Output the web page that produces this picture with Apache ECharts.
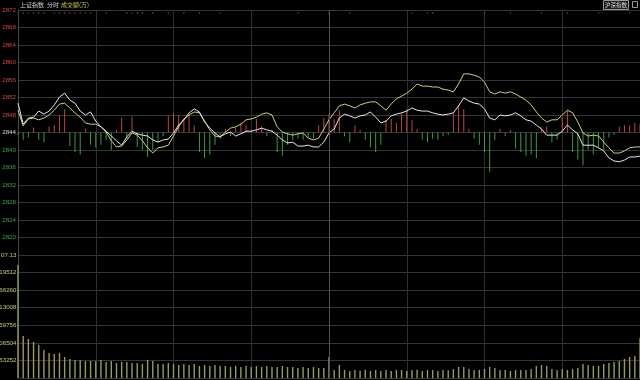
<!DOCTYPE html>
<html><head><meta charset="utf-8">
<script src="https://cdn.jsdelivr.net/npm/echarts@6/dist/echarts.min.js"></script>
<style>html,body{margin:0;padding:0;background:#000;}#c{width:640px;height:380px;}</style>
</head><body><div id="c"></div>
<script>
// index price (white) and second index (yellow), one point every 2 minutes 9:30-11:30, 13:00-15:00
const whiteLine = [2850.7,2845.9,2847.3,2847.5,2848.9,2848.2,2848.9,2850.3,2852.1,2853.0,
2851.4,2850.7,2848.9,2848.0,2848.7,2846.6,2845.3,2844.3,2843.2,2842.1,
2841.1,2843.0,2844.3,2843.7,2843.4,2843.2,2842.3,2841.8,2842.3,2842.5,
2843.9,2845.7,2846.9,2848.5,2849.4,2848.7,2846.4,2845.0,2843.9,2843.0,
2843.7,2844.1,2843.2,2843.7,2844.3,2844.3,2844.6,2845.0,2844.6,2844.3,
2843.4,2842.3,2841.6,2841.8,2840.9,2840.9,2841.1,2840.7,2840.7,2841.8,
2843.9,2844.8,2847.3,2848.2,2847.8,2847.3,2847.8,2848.0,2848.7,2847.5,
2846.2,2846.6,2847.8,2848.2,2848.5,2848.9,2849.6,2849.1,2848.9,2848.9,
2848.5,2848.2,2848.0,2848.2,2848.5,2850.1,2851.9,2851.2,2850.7,2850.5,
2849.4,2847.3,2846.9,2848.0,2847.8,2848.0,2848.5,2847.8,2846.9,2846.6,
2845.7,2844.8,2843.4,2843.4,2843.4,2844.3,2845.7,2844.6,2843.7,2841.1,
2841.1,2841.1,2840.5,2839.8,2838.2,2837.5,2837.3,2837.7,2838.4,2838.4,
2838.6];
const yellowLine = [2849.1,2845.5,2847.1,2847.3,2846.9,2847.3,2848.0,2849.1,2850.5,2850.7,
2849.6,2848.5,2847.5,2846.2,2845.9,2845.9,2845.3,2844.1,2842.1,2840.7,
2840.9,2842.3,2843.9,2843.4,2842.1,2840.5,2839.3,2840.5,2840.7,2841.1,
2843.2,2845.3,2847.1,2848.0,2848.7,2848.5,2846.6,2844.6,2843.2,2843.0,
2844.1,2845.0,2845.3,2845.9,2846.9,2847.1,2847.5,2848.2,2848.5,2848.0,
2845.3,2844.1,2843.7,2843.4,2843.7,2843.9,2842.7,2842.3,2842.7,2844.8,
2846.9,2848.5,2850.1,2850.5,2850.1,2849.6,2850.3,2850.7,2851.0,2851.0,
2850.1,2849.1,2850.5,2851.7,2852.3,2853.0,2853.9,2855.1,2854.6,2854.6,
2854.4,2854.4,2853.9,2853.7,2853.3,2855.1,2857.4,2857.4,2857.1,2856.7,
2855.5,2853.3,2852.8,2853.3,2853.0,2853.3,2852.8,2852.1,2851.4,2850.3,
2848.7,2847.3,2846.4,2846.9,2846.9,2848.0,2849.1,2848.5,2846.4,2843.9,
2843.2,2843.4,2843.2,2841.8,2840.5,2839.3,2839.3,2839.8,2840.5,2840.7,
2840.7];
// red/green strength bars around the 2844 line
const strength = [-2,-6,-4,4,-6,-8,5,6,14,19,
-11,-16,-18,3,-10,-12,-10,-6,-14,2,
12,-5,13,-12,-14,-20,-14,-8,-3,14,
16,14,11,14,6,-16,-21,-18,-10,-5,
3,-3,4,8,6,2,11,5,-3,2,
-16,-19,-10,-6,-5,-6,-4,-5,6,12,
15,11,18,-3,-8,6,2,-6,-12,-16,
-10,10,11,8,16,19,10,3,-6,-8,
-5,-6,-3,-2,16,22,19,3,-5,-10,
-16,-32,-6,3,-3,2,-13,-16,-19,-18,
-21,4,5,-8,-6,12,18,-16,-22,-27,
-14,-18,-12,-14,-4,-2,5,6,6,8,
7];
// turnover (成交额)
const volume = [342500,127300,118200,109100,100000,84900,75800,72700,75800,63700,
57600,54600,54600,51500,51500,51500,54600,48500,51500,45500,
48500,48500,45500,45500,42400,54600,51500,42400,42400,45500,
42400,39400,42400,39400,42400,36400,39400,36400,39400,36400,
36400,33300,36400,33300,36400,33300,36400,33300,36400,33300,
33300,36400,33300,33300,30300,33300,30300,33300,30300,30300,
63700,24200,39400,24600,21200,24200,21800,24900,21200,24200,
21500,24200,21200,24600,24200,21200,24200,24800,21200,24200,
24500,21200,24200,23800,27300,33300,33600,27300,24200,24700,
27300,33300,30300,24200,24600,21200,24200,24200,23900,27300,
36400,39400,36400,27300,24200,27300,24600,27300,30300,42400,
39400,36400,36800,42400,45500,48500,51500,57600,63700,66700,
121200];
// event markers (index of 2-minute slot)
const events = [1,2,3,4,5,7,8,9,10,11,12,13,14,17,21,22,23,24,26,29,32,35,39,54,60,64,76,79,80,90,95,101,106,112,118];
const priceMin = 2816, priceMax = 2872, priceStep = 4, prevClose = 2844;
const volStep = 53252, volMax = 372764;
const volTopLabel = '07.13';
const header = ['上证指数', '分时', '成交额(万)'];
const rightTag = '沪深指数';

// time categories
const times = [];
function pad(n){return n<10?'0'+n:''+n;}
for (let m = 9*60+30; m <= 11*60+30; m += 2) times.push(Math.floor(m/60)+':'+pad(m%60));
for (let m = 13*60+2; m <= 15*60; m += 2) times.push(Math.floor(m/60)+':'+pad(m%60));

const gridColor = '#353535';
const font = 'Liberation Sans';
const cjk = 'Noto Sans CJK SC';
const chart = echarts.init(document.getElementById('c'), null, {renderer:'canvas'});
const xBase = {
  type:'category', data: times, boundaryGap:false,
  axisLine:{show:false}, axisTick:{show:false}, axisLabel:{show:false},
  splitLine:{show:true, interval:14, lineStyle:{color:'#2e2e2e', width:1}}
};
chart.setOption({
  backgroundColor:'#000',
  animation:false,
  grid:[
    {left:18, right:0, top:10, height:245, containLabel:false, outerBoundsMode:'none'},
    {left:18, right:0, top:255, height:123, containLabel:false, outerBoundsMode:'none'}
  ],
  xAxis:[
    Object.assign({gridIndex:0}, xBase),
    Object.assign({gridIndex:1}, xBase)
  ],
  yAxis:[
    {gridIndex:0, type:'value', min:priceMin, max:priceMax, interval:priceStep,
     axisLine:{show:true, lineStyle:{color:'#484848'}}, axisTick:{show:false},
     splitLine:{lineStyle:{color:gridColor}},
     axisLabel:{margin:2, fontSize:6.2, fontFamily:font,
       formatter: v => v === priceMin ? '' : String(v),
       color: v => Number(v) > prevClose ? '#d04848' : (Number(v) < prevClose ? '#3fa34a' : '#d8d8d8')}},
    {gridIndex:0, type:'value', min:-100, max:100, show:false, splitLine:{show:false}},
    {gridIndex:1, type:'value', min:0, max:volMax, interval:volStep,
     axisLine:{show:true, lineStyle:{color:'#484848'}}, axisTick:{show:false},
     splitLine:{lineStyle:{color:gridColor}},
     axisLabel:{margin:1.5, fontSize:6.2, fontFamily:font, color:'#c8c880',
       formatter: v => v === 0 ? '' : (v === volMax ? volTopLabel : String(v))}}
  ],
  series:[
    {type:'bar', xAxisIndex:0, yAxisIndex:1, data:strength, barWidth:1,
     itemStyle:{color: p => p.value >= 0 ? '#b84848' : '#3e9a4c'}},
    {type:'line', xAxisIndex:0, yAxisIndex:0, data:yellowLine, symbol:'none',
     lineStyle:{color:'#cfcf78', width:1}},
    {type:'line', xAxisIndex:0, yAxisIndex:0, data:whiteLine, symbol:'none',
     lineStyle:{color:'#e6e6e6', width:1},
     markLine:{silent:true, symbol:'none', label:{show:false},
       lineStyle:{color:'#555', type:'solid', width:1}, data:[{xAxis:times[60]}]}},
    {type:'scatter', xAxisIndex:0, yAxisIndex:0, symbolSize:1.5,
     data: events.map(i => [i, priceMax - 0.7]), itemStyle:{color:'#777'}},
    {type:'bar', xAxisIndex:1, yAxisIndex:2, data:volume, barWidth:1.4,
     itemStyle:{color:'#9a9a5c'},
     markLine:{silent:true, symbol:'none', label:{show:false},
       lineStyle:{color:'#555', type:'solid', width:1}, data:[{xAxis:times[60]}]}}
  ],
  graphic:[
    {type:'text', x:20, y:4.5, style:{text:header[0], fill:'#cfcfcf', fontSize:6, fontFamily:cjk, verticalAlign:'middle'}},
    {type:'text', x:47, y:4.5, style:{text:header[1], fill:'#cfcfcf', fontSize:6, fontFamily:cjk, verticalAlign:'middle'}},
    {type:'text', x:61, y:4.5, style:{text:header[2], fill:'#c8c850', fontSize:6, fontFamily:cjk, verticalAlign:'middle'}},
    {type:'rect', shape:{x:603.5, y:0.5, width:25, height:9}, style:{fill:'#1a1a1a', stroke:'#999', lineWidth:1}},
    {type:'text', x:605, y:5, style:{text:rightTag, fill:'#dddddd', fontSize:5.5, fontFamily:cjk, verticalAlign:'middle'}},
    {type:'rect', shape:{x:632.5, y:1.5, width:5, height:6}, style:{fill:'none', stroke:'#999', lineWidth:1}}
  ]
});
</script></body></html>
